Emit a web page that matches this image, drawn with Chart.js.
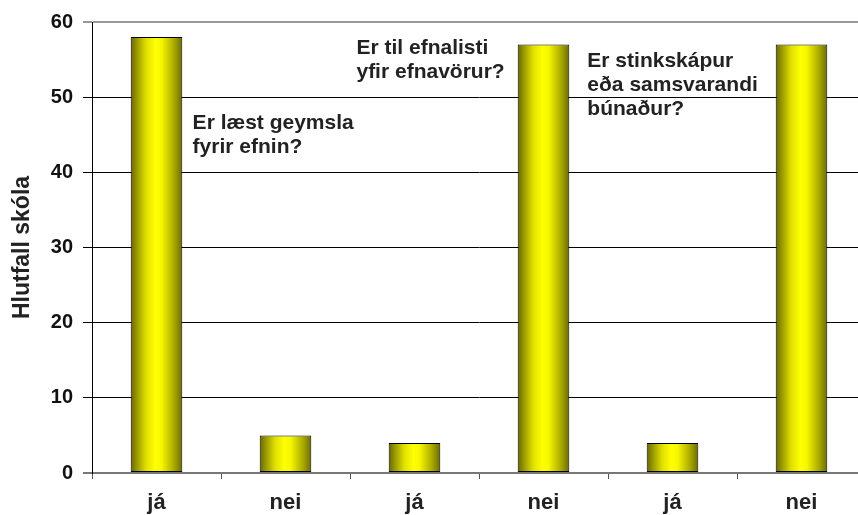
<!DOCTYPE html>
<html>
<head>
<meta charset="utf-8">
<script src="https://cdn.jsdelivr.net/npm/chart.js@4/dist/chart.umd.min.js"></script>
<style>
  html, body { margin: 0; padding: 0; background: #fff; overflow: hidden; }
  #wrap { width: 870px; height: 515px; position: relative; }
</style>
</head>
<body>
<div id="wrap"><canvas id="chart"></canvas></div>
<script>
// Data
const categories = ['já', 'nei', 'já', 'nei', 'já', 'nei'];
const values = [58, 5, 4, 57, 4, 57];
const yTicks = [0, 10, 20, 30, 40, 50, 60];

// Question labels (anchored in category / value units)
const noteLines = [
    ['Er læst geymsla', 'fyrir efnin?'],
    ['Er til efnalisti', 'yfir efnavörur?'],
    ['Er stinkskápur', 'eða samsvarandi', 'búnaður?']
];
const noteX = [0.28, 1.55, 3.34];
const noteY = [45.7, 55.8, 54.0];

const FONT = "'Liberation Sans', Arial, sans-serif";

function barGradient(context) {
    const chart = context.chart;
    const xs = chart.scales.x;
    if (!chart.chartArea || !xs) return '#ffff00';
    const c = xs.getPixelForValue(context.dataIndex);
    const half = xs.width / categories.length * 0.2;
    if (!isFinite(c) || !isFinite(half)) return '#ffff00';
    const g = chart.ctx.createLinearGradient(c - half, 0, c + half, 0);
    g.addColorStop(0, '#666600');
    g.addColorStop(0.12, '#999900');
    g.addColorStop(0.3, '#e0e000');
    g.addColorStop(0.48, '#ffff00');
    g.addColorStop(0.6, '#f6f600');
    g.addColorStop(0.82, '#b0b000');
    g.addColorStop(1, '#6c6c00');
    return g;
}

const notesPlugin = {
    id: 'notes',
    afterDatasetsDraw(chart) {
        const ctx = chart.ctx;
        const xs = chart.scales.x, ys = chart.scales.y;
        ctx.save();
        ctx.font = 'bold 21px ' + FONT;
        ctx.fillStyle = '#222';
        ctx.textAlign = 'left';
        ctx.textBaseline = 'alphabetic';
        noteLines.forEach((lines, i) => {
            const x = xs.getPixelForValue(noteX[i]);
            const y = ys.getPixelForValue(noteY[i]);
            lines.forEach((t, j) => ctx.fillText(t, x, y + j * 24));
        });
        ctx.restore();
    }
};

new Chart(document.getElementById('chart'), {
    type: 'bar',
    data: {
        labels: categories,
        datasets: [{
            data: values,
            backgroundColor: barGradient,
            borderColor: '#000',
            borderWidth: 1,
            borderSkipped: false,
            barPercentage: 0.4,
            categoryPercentage: 1
        }]
    },
    options: {
        responsive: true,
        maintainAspectRatio: false,
        animation: false,
        layout: { padding: { top: 22, right: 4, left: 0, bottom: 0 } },
        plugins: { legend: { display: false }, tooltip: { enabled: false } },
        scales: {
            x: {
                offset: true,
                grid: {
                    display: true,
                    drawOnChartArea: false,
                    offset: true,
                    tickLength: 6,
                    color: '#555'
                },
                border: { color: '#777', width: 2 },
                ticks: {
                    color: '#222',
                    padding: 11,
                    font: { family: FONT, size: 22, weight: 'bold' }
                },
                afterFit(scale) { scale.height = 42; }
            },
            y: {
                min: 0,
                max: 60,
                afterBuildTicks(scale) { scale.ticks = yTicks.map(v => ({ value: v })); },
                grid: {
                    tickLength: 9,
                    color: (c) => c.tick && c.tick.value === 60 ? '#999' : (c.tick && c.tick.value === 0 ? '#777' : '#000'),
                    lineWidth: (c) => c.tick && (c.tick.value === 60 || c.tick.value === 0) ? 2 : 1
                },
                border: { color: '#000', width: 1 },
                ticks: {
                    color: '#111',
                    padding: 10,
                    font: { family: FONT, size: 20, weight: 'bold' }
                },
                title: {
                    display: true,
                    text: 'Hlutfall skóla',
                    color: '#222',
                    padding: { top: 9, bottom: 0 },
                    font: { family: FONT, size: 23, weight: 'bold' }
                },
                afterFit(scale) { scale.width = 92; }
            }
        }
    },
    plugins: [notesPlugin]
});
</script>
</body>
</html>
